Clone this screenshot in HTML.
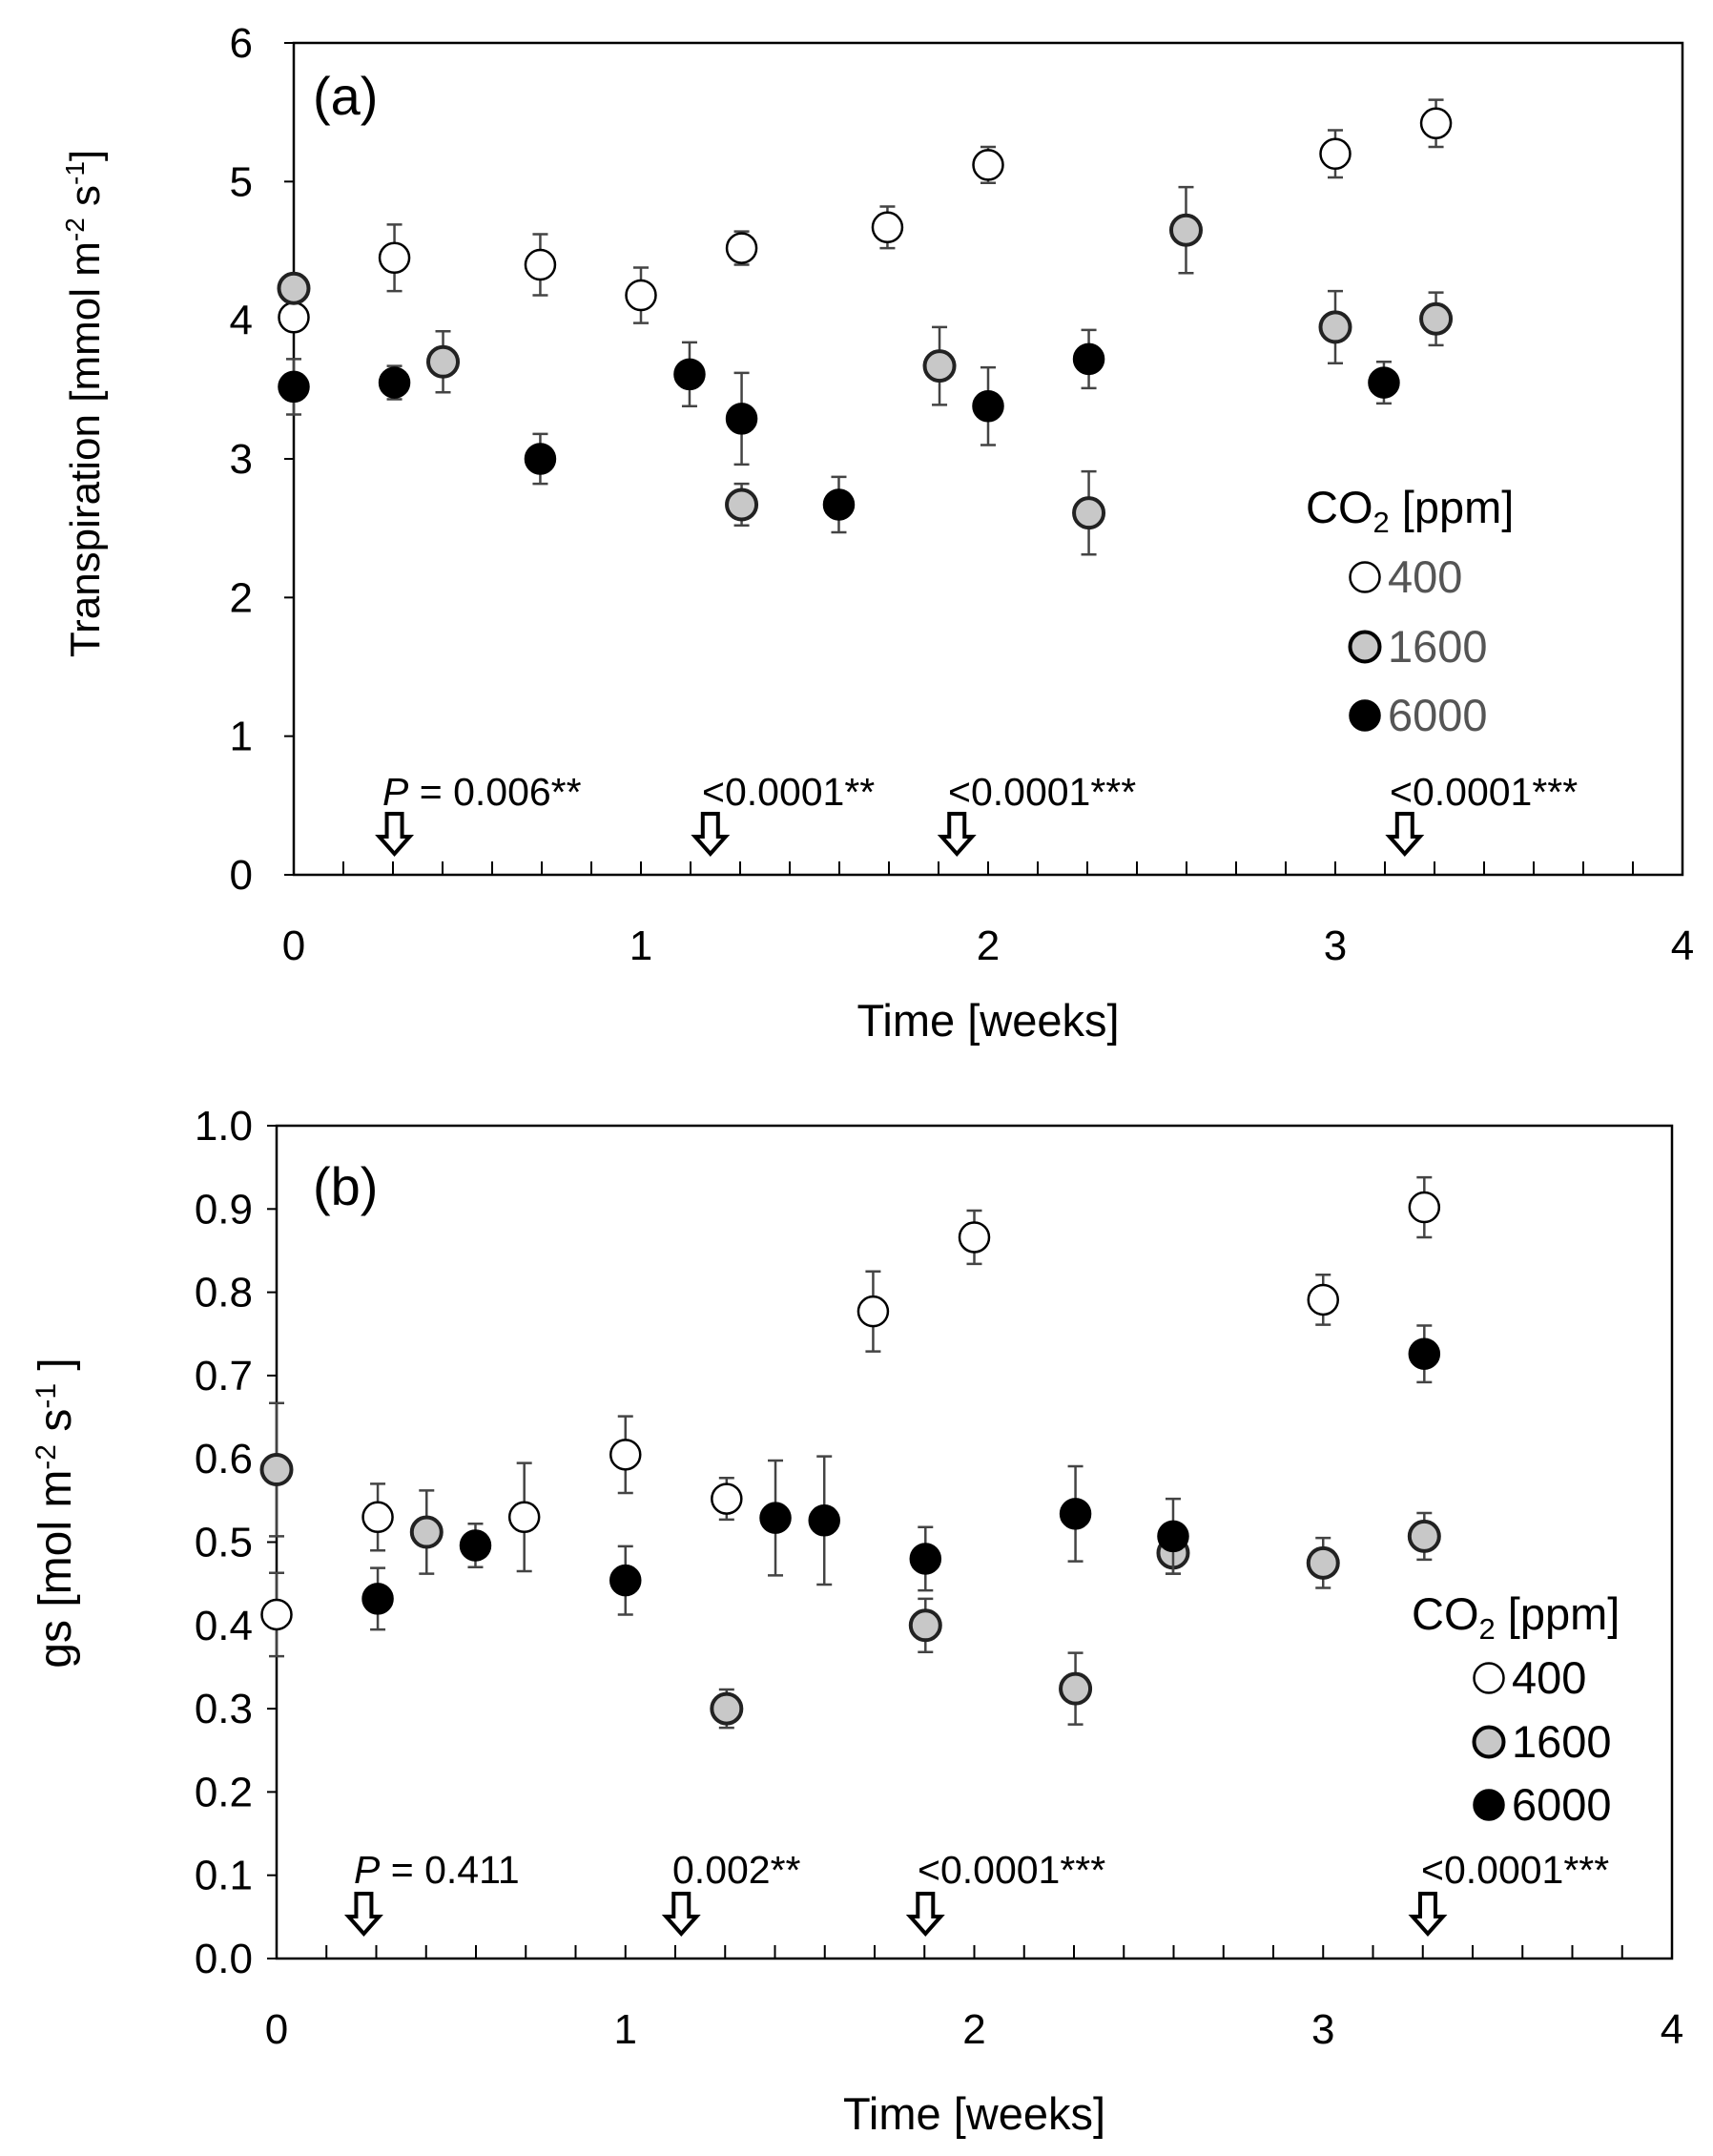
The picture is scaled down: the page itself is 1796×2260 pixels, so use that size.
<!DOCTYPE html>
<html><head><meta charset="utf-8">
<style>
html,body{margin:0;padding:0;background:#fff;}
svg{display:block;font-family:"Liberation Sans Narrow","Liberation Sans",sans-serif;}
</style></head>
<body>
<svg id="chart" width="1796" height="2260" viewBox="0 0 1796 2260" xmlns="http://www.w3.org/2000/svg"></svg>
<script>
// Panel (a) data: transpiration
const aWhiteX=[0,0.29,0.71,1,1.29,1.71,2,3,3.29];
const aWhiteY=[4.02,4.45,4.4,4.18,4.52,4.67,5.12,5.2,5.42];
const aWhiteE=[0.03,0.24,0.22,0.2,0.12,0.15,0.13,0.17,0.17];
const aGrayX=[0,0.43,1.29,1.86,2.29,2.57,3,3.29];
const aGrayY=[4.23,3.7,2.67,3.67,2.61,4.65,3.95,4.01];
const aGrayE=[0.03,0.22,0.15,0.28,0.3,0.31,0.26,0.19];
const aBlackX=[0,0.29,0.71,1.14,1.29,1.57,2,2.29,3.14];
const aBlackY=[3.52,3.55,3.0,3.61,3.29,2.67,3.38,3.72,3.55];
const aBlackE=[0.2,0.12,0.18,0.23,0.33,0.2,0.28,0.21,0.15];
const aArrowX=[0.29,1.2,1.91,3.2];
const aPLabels=["0.006**","<0.0001**","<0.0001***","<0.0001***"];
const aYTicks=["0","1","2","3","4","5","6"];
// Panel (b) data: gs
const bWhiteX=[0,0.29,0.71,1,1.29,1.71,2,3,3.29];
const bWhiteY=[0.413,0.53,0.53,0.605,0.552,0.777,0.866,0.791,0.902];
const bWhiteE=[0.05,0.04,0.065,0.046,0.025,0.048,0.032,0.03,0.036];
const bGrayX=[0,0.43,1.29,1.86,2.29,2.57,3,3.29];
const bGrayY=[0.587,0.512,0.3,0.4,0.324,0.487,0.475,0.507];
const bGrayE=[0.08,0.05,0.023,0.032,0.043,0.025,0.03,0.028];
const bBlackX=[0.29,0.57,1,1.43,1.57,1.86,2.29,2.57,3.29];
const bBlackY=[0.432,0.496,0.454,0.529,0.526,0.48,0.534,0.507,0.726];
const bBlackE=[0.037,0.026,0.041,0.069,0.077,0.038,0.057,0.045,0.034];
const bArrowX=[0.25,1.16,1.86,3.3];
const bPLabels=["0.411","0.002**","<0.0001***","<0.0001***"];
const bYTicks=["0.0","0.1","0.2","0.3","0.4","0.5","0.6","0.7","0.8","0.9","1.0"];
const xTicks=["0","1","2","3","4"];

const NS="http://www.w3.org/2000/svg";
const svg=document.getElementById('chart');
function mk(tag,attrs,parent,text){const e=document.createElementNS(NS,tag);for(const k in attrs)e.setAttribute(k,attrs[k]);if(text!==undefined)e.textContent=text;(parent||svg).appendChild(e);return e;}

function panel(o){
  const g=mk('g',{});
  
  
  const X=v=>o.L+(o.R-o.L)*v/4;
  const Y=v=>o.B-(o.B-o.T)*(v-o.ymin)/(o.ymax-o.ymin);
  const box=mk('rect',{x:o.L,y:o.T,width:o.R-o.L,height:o.B-o.T,fill:'none',stroke:'#000','stroke-width':2.5},g);
  
  
  for(let i=1;i<28;i++){const xx=X(i/7);const t=mk('line',{x1:xx,x2:xx,y1:o.B,y2:o.B-14,stroke:'#000','stroke-width':2},g);
    }
  xTicks.forEach((s,i)=>{const t=mk('text',{x:X(+s),y:o.xlabY,'font-size':44,'text-anchor':'middle'},g,s);
    });
  o.yTicks.forEach((s)=>{const yy=Y(+s);
    const l=mk('line',{x1:o.L,x2:o.L-10,y1:yy,y2:yy,stroke:'#000','stroke-width':2},g);
    
    const t=mk('text',{x:265,y:yy+15,'font-size':44,'text-anchor':'end'},g,s);
    });
  const xt=mk('text',{x:(o.L+o.R)/2,y:o.xtitleY,'font-size':47,'text-anchor':'middle'},g,'Time [weeks]');
  
  const yt=mk('text',{x:0,y:0,'font-size':o.ytSize,'text-anchor':'middle',transform:`translate(${o.ytX},${o.ytY}) rotate(-90)`},g);
  
  o.ytitle(yt);
  const pl=mk('text',{x:328,y:o.labelY,'font-size':56},g,o.label);
  
  const series=[[o.wx,o.wy,o.we,'#fff','400'],[o.gx,o.gy,o.ge,'#c8c8c8','1600'],[o.kx,o.ky,o.ke,'#000','6000']];
  series.forEach(([xs,ys,es,fill,nm])=>{
    xs.forEach((xv,i)=>{const cx=X(xv),cy=Y(ys[i]),e1=Y(ys[i]+es[i]),e2=Y(ys[i]-es[i]);
      const eb=mk('path',{d:`M${cx},${e1}V${e2}M${cx-8},${e1}H${cx+8}M${cx-8},${e2}H${cx+8}`,stroke:'#444','stroke-width':2.5,fill:'none'},g);
      
      const c=mk('circle',{cx:cx,cy:cy,r:15.5,fill:fill,stroke:fill==='#c8c8c8'?'#222':'#000','stroke-width':fill==='#c8c8c8'?4:2.5},g);
      
    });
  });
  o.arrows.forEach((xv,i)=>{const ax=X(xv),t=o.arrowTop,b=o.arrowTop+42;
    const p=mk('path',{d:`M${ax-8},${t}H${ax+8}V${b-18}H${ax+16}L${ax},${b}L${ax-16},${b-18}H${ax-8}Z`,fill:'#fff',stroke:'#000','stroke-width':4},g);
    
    const tx=mk('text',{x:o.textX[i],y:o.textY,'font-size':41},g);
    
    if(i===0){mk('tspan',{'font-style':'italic'},tx,'P');mk('tspan',{},tx,' = '+o.plab[i]);}else tx.textContent=o.plab[i];
  });
  const lt=mk('text',{x:o.legX,y:o.legTitleY,'font-size':47},g);
  
  mk('tspan',{},lt,'CO');mk('tspan',{'font-size':31,dy:10},lt,'2');mk('tspan',{dy:-10},lt,' [ppm]');
  [['#fff','400'],['#c8c8c8','1600'],['#000','6000']].forEach(([f,n],i)=>{const yy=o.legY[i];
    const c=mk('circle',{cx:o.legMX,cy:yy,r:15.5,fill:f,stroke:'#000','stroke-width':f==='#c8c8c8'?4:2.5},g);
    
    const t=mk('text',{x:o.legMX+24,y:yy+16,'font-size':47,fill:o.legColor},g,n);
    });
}

panel({id:'transpiration',L:308,R:1764,T:45,B:917,ymin:0,ymax:6,yTicks:aYTicks,xlabY:1006,xtitleY:1086,
  ytX:104,ytY:423,ytSize:44,ytitle:(t)=>{mk('tspan',{},t,'Transpiration [mmol m');mk('tspan',{'font-size':28,dy:-16},t,'-2');mk('tspan',{dy:16},t,' s');mk('tspan',{'font-size':28,dy:-16},t,'-1');mk('tspan',{dy:16},t,']');},
  label:'(a)',labelY:120,wx:aWhiteX,wy:aWhiteY,we:aWhiteE,gx:aGrayX,gy:aGrayY,ge:aGrayE,kx:aBlackX,ky:aBlackY,ke:aBlackE,
  arrows:aArrowX,plab:aPLabels,textX:[401,736,994,1457],textY:844,arrowTop:853,
  legX:1369,legTitleY:548,legMX:1431,legY:[605,678,750],legColor:'#555'});

panel({id:'gs',L:290,R:1753,T:1180,B:2053,ymin:0,ymax:1,yTicks:bYTicks,xlabY:2142,xtitleY:2232,
  ytX:74,ytY:1586,ytSize:48,ytitle:(t)=>{mk('tspan',{},t,'gs [mol m');mk('tspan',{'font-size':30,dy:-16},t,'-2');mk('tspan',{dy:16},t,' s');mk('tspan',{'font-size':30,dy:-16},t,'-1');mk('tspan',{dy:16},t,' ]');},
  label:'(b)',labelY:1263,wx:bWhiteX,wy:bWhiteY,we:bWhiteE,gx:bGrayX,gy:bGrayY,ge:bGrayE,kx:bBlackX,ky:bBlackY,ke:bBlackE,
  arrows:bArrowX,plab:bPLabels,textX:[371,705,962,1490],textY:1974,arrowTop:1985,
  legX:1480,legTitleY:1708,legMX:1561,legY:[1759,1826,1892],legColor:'#000'});
</script>
</body></html>
